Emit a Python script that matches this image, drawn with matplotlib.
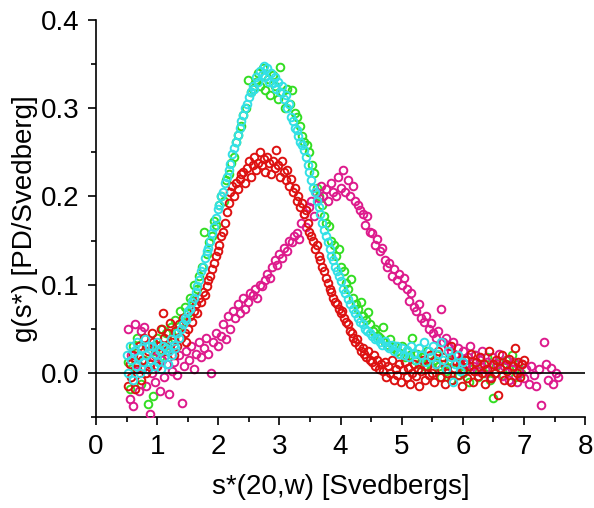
import matplotlib
matplotlib.use("Agg")
import matplotlib.pyplot as plt
from matplotlib.ticker import MultipleLocator

plt.rcParams['font.family'] = ['Liberation Sans', 'DejaVu Sans']

green_x = [0.52,0.56,0.60,0.63,0.67,0.70,0.74,0.78,0.81,0.85,0.89,0.93,0.96,1.00,1.04,1.08,1.11,1.15,1.19,1.23,
           1.27,1.30,1.34,1.38,1.42,1.46,1.50,1.54,1.57,1.61,1.65,1.69,1.73,1.77,1.81,1.85,1.89,1.93,1.97,2.01,
           2.05,2.09,2.13,2.17,2.21,2.25,2.29,2.33,2.37,2.41,2.45,2.49,2.53,2.57,2.61,2.65,2.69,2.73,2.77,2.81,
           2.85,2.89,2.93,2.97,3.01,3.05,3.09,3.13,3.17,3.21,3.25,3.29,3.33,3.37,3.41,3.45,3.49,3.53,3.57,3.61,
           3.65,3.69,3.73,3.77,3.81,3.85,3.89,3.93,3.97,4.01,4.05,4.09,4.13,4.17,4.21,4.25,4.29,4.33,4.37,4.41,
           4.45,4.49,4.53,4.57,4.61,4.65,4.69,4.73,4.77,4.81,4.85,4.89,4.93,4.97,5.01,5.05,5.09,5.13,5.17,5.21,
           5.25,5.29,5.33,5.37,5.41,5.45,5.49,5.53,5.57,5.61,5.65,5.69,5.73,5.77,5.81,5.85,5.89,5.93,5.97,6.01,
           6.05,6.10,6.15,6.20,6.25,6.30,6.35,6.40,6.45,6.50,6.55,6.60,6.65,6.70,6.75,6.80,6.85,6.90,6.95]
green_y = [0.012,-0.018,0.030,0.005,0.040,0.020,-0.012,0.015,0.030,-0.035,0.010,-0.026,0.025,0.040,0.018,0.050,0.030,0.045,0.028,0.052,
           0.040,0.060,0.048,0.070,0.058,0.075,0.068,0.085,0.082,0.100,0.095,0.110,0.120,0.160,0.135,0.148,0.155,0.172,0.168,0.190,
           0.200,0.195,0.218,0.225,0.238,0.245,0.262,0.270,0.280,0.292,0.300,0.332,0.318,0.322,0.330,0.340,0.325,0.345,0.320,0.333,
           0.315,0.338,0.325,0.310,0.347,0.318,0.300,0.322,0.305,0.320,0.295,0.290,0.280,0.268,0.262,0.258,0.250,0.235,0.227,0.210,
           0.200,0.190,0.178,0.170,0.166,0.150,0.145,0.132,0.140,0.120,0.115,0.102,0.095,0.106,0.085,0.078,0.072,0.080,0.065,0.060,
           0.069,0.055,0.048,0.050,0.042,0.040,0.052,0.035,0.032,0.038,0.028,0.030,0.025,0.022,0.030,0.018,0.025,0.020,0.039,0.015,
           0.022,0.010,0.018,0.008,0.025,0.012,0.005,0.015,0.020,0.008,-0.005,0.010,0.002,0.015,-0.008,0.005,0.012,-0.002,0.008,0.000,
           0.015,-0.010,0.005,0.020,-0.005,0.010,0.000,0.018,-0.008,-0.028,0.008,0.012,-0.002,0.015,0.005,0.020,-0.005,0.010,0.000]

cyan_x = [0.50,0.53,0.55,0.58,0.60,0.62,0.65,0.67,0.70,0.72,0.75,0.77,0.80,0.82,0.85,0.87,0.90,0.92,0.95,0.97,
          1.00,1.02,1.05,1.07,1.10,1.12,1.15,1.17,1.20,1.22,1.25,1.27,1.30,1.33,1.36,1.39,1.42,1.45,1.48,1.51,
          1.54,1.57,1.60,1.63,1.66,1.69,1.72,1.75,1.78,1.81,1.84,1.87,1.90,1.93,1.96,1.99,2.02,2.05,2.08,2.11,
          2.14,2.17,2.20,2.23,2.26,2.29,2.32,2.35,2.38,2.41,2.44,2.47,2.50,2.53,2.56,2.59,2.62,2.65,2.68,2.71,
          2.74,2.77,2.80,2.83,2.86,2.89,2.92,2.95,2.98,3.01,3.04,3.07,3.10,3.13,3.16,3.19,3.22,3.25,3.28,3.31,
          3.34,3.37,3.40,3.43,3.46,3.49,3.52,3.55,3.58,3.61,3.64,3.67,3.70,3.73,3.76,3.79,3.82,3.85,3.88,3.91,
          3.94,3.97,4.00,4.04,4.08,4.12,4.16,4.20,4.24,4.28,4.32,4.36,4.40,4.44,4.48,4.52,4.56,4.60,4.64,4.68,
          4.72,4.76,4.80,4.84,4.88,4.92,4.96,5.00,5.04,5.08,5.12,5.16,5.20,5.24,5.28,5.32,5.36,5.40,5.44,5.48,
          5.52,5.56,5.60,5.64,5.68,5.72,5.76,5.80,5.84,5.88,5.92,5.96,6.00]
cyan_y = [0.020,0.000,0.030,0.015,-0.008,0.025,0.008,0.035,0.018,0.000,0.028,0.012,0.038,0.020,0.005,0.030,0.015,0.030,0.008,0.022,
          0.035,0.012,0.025,0.005,0.030,0.018,0.028,0.010,0.025,0.038,0.020,0.032,0.028,0.045,0.040,0.050,0.055,0.062,0.060,0.070,
          0.072,0.080,0.085,0.092,0.098,0.105,0.115,0.120,0.130,0.138,0.142,0.150,0.158,0.165,0.175,0.186,0.190,0.200,0.205,0.215,
          0.222,0.230,0.237,0.248,0.255,0.262,0.270,0.278,0.285,0.292,0.300,0.305,0.312,0.318,0.325,0.322,0.335,0.330,0.342,0.338,
          0.348,0.335,0.345,0.330,0.340,0.328,0.335,0.322,0.330,0.318,0.325,0.310,0.315,0.300,0.305,0.290,0.285,0.278,0.275,0.268,
          0.262,0.258,0.252,0.245,0.235,0.228,0.218,0.210,0.205,0.195,0.188,0.180,0.170,0.162,0.155,0.148,0.140,0.133,0.128,0.120,
          0.115,0.110,0.104,0.095,0.090,0.084,0.078,0.072,0.068,0.062,0.058,0.055,0.050,0.048,0.045,0.042,0.038,0.040,0.035,0.032,
          0.036,0.030,0.028,0.032,0.025,0.030,0.022,0.028,0.020,0.026,0.018,0.030,0.022,0.015,0.028,0.020,0.035,0.012,0.025,0.018,
          0.030,0.010,0.022,0.035,0.015,0.005,0.025,0.018,-0.010,0.010,0.020,0.002,0.012]

red_x = [0.52,0.55,0.58,0.61,0.64,0.67,0.70,0.73,0.76,0.79,0.82,0.85,0.88,0.91,0.94,0.97,1.00,1.03,1.06,1.09,
         1.12,1.15,1.18,1.21,1.24,1.27,1.30,1.33,1.36,1.39,1.42,1.45,1.48,1.51,1.54,1.57,1.60,1.63,1.66,1.69,
         1.72,1.75,1.78,1.81,1.84,1.87,1.90,1.93,1.96,1.99,2.02,2.05,2.08,2.11,2.14,2.17,2.20,2.23,2.26,2.29,
         2.32,2.35,2.38,2.41,2.44,2.47,2.50,2.53,2.56,2.59,2.62,2.65,2.68,2.71,2.74,2.77,2.80,2.83,2.86,2.89,
         2.92,2.95,2.98,3.01,3.04,3.07,3.10,3.13,3.16,3.19,3.22,3.25,3.28,3.31,3.34,3.37,3.40,3.43,3.46,3.49,
         3.52,3.55,3.58,3.61,3.64,3.67,3.70,3.73,3.76,3.79,3.82,3.85,3.88,3.91,3.94,3.97,4.00,4.03,4.06,4.09,
         4.12,4.15,4.18,4.21,4.24,4.27,4.30,4.33,4.36,4.39,4.42,4.45,4.48,4.51,4.54,4.57,4.60,4.63,4.66,4.69,
         4.72,4.75,4.78,4.81,4.84,4.87,4.90,4.93,4.96,4.99,5.02,5.05,5.08,5.11,5.14,5.17,5.20,5.23,5.26,5.29,
         5.32,5.35,5.38,5.41,5.44,5.47,5.50,5.53,5.56,5.59,5.62,5.65,5.68,5.71,5.74,5.77,5.80,5.83,5.86,5.89,
         5.92,5.95,5.98,6.01,6.04,6.07,6.10,6.13,6.16,6.19,6.22,6.25,6.28,6.31,6.34,6.37,6.40,6.43,6.46,6.49,
         6.52,6.55,6.58,6.61,6.64,6.67,6.70,6.73,6.76,6.79,6.82,6.85,6.88,6.91,6.94,6.97,7.00]
red_y = [-0.015,0.010,-0.005,0.020,-0.018,0.005,0.030,-0.008,0.015,0.040,0.000,0.025,0.010,0.045,0.035,0.020,0.008,0.030,0.050,0.068,
         0.040,0.025,0.045,0.057,0.035,0.020,0.048,0.030,0.055,0.040,0.062,0.045,0.035,0.050,0.065,0.058,0.070,0.078,0.068,0.085,
         0.080,0.092,0.088,0.098,0.105,0.110,0.118,0.125,0.132,0.138,0.145,0.155,0.160,0.170,0.182,0.192,0.205,0.212,0.200,0.215,
         0.208,0.220,0.225,0.228,0.215,0.232,0.240,0.222,0.235,0.245,0.230,0.238,0.250,0.235,0.242,0.228,0.245,0.238,0.225,0.240,
         0.232,0.252,0.235,0.222,0.240,0.228,0.218,0.230,0.212,0.220,0.205,0.210,0.195,0.200,0.188,0.192,0.180,0.185,0.170,0.160,
         0.155,0.150,0.140,0.145,0.132,0.128,0.120,0.115,0.108,0.102,0.095,0.092,0.085,0.080,0.078,0.072,0.068,0.070,0.062,0.058,
         0.055,0.048,0.045,0.040,0.035,0.038,0.030,0.025,0.028,0.022,0.018,0.025,0.015,0.012,0.020,0.008,0.015,0.005,0.010,0.002,
         0.012,-0.005,0.008,0.000,0.015,-0.008,0.005,-0.002,0.010,-0.010,0.003,0.012,-0.005,0.006,-0.012,0.000,0.010,-0.004,0.005,-0.015,
         0.002,0.015,-0.008,0.008,-0.002,0.020,0.000,-0.010,0.010,0.025,-0.005,0.005,0.018,-0.012,0.000,0.012,0.030,-0.008,0.006,0.020,
         -0.002,0.010,-0.015,0.004,0.015,-0.006,0.008,0.022,-0.010,0.002,0.012,-0.004,0.018,0.000,0.010,-0.012,0.005,0.025,-0.006,0.010,
         0.000,0.015,-0.025,0.006,0.020,-0.008,0.010,0.002,0.016,-0.010,0.008,0.028,0.000,0.012,-0.005,0.010,0.015]

magenta_x = [0.52,0.55,0.58,0.61,0.64,0.67,0.70,0.73,0.76,0.79,0.82,0.85,0.88,0.91,0.94,0.97,1.00,1.04,1.08,1.12,
             1.16,1.20,1.24,1.28,1.32,1.36,1.40,1.44,1.48,1.52,1.56,1.60,1.64,1.68,1.72,1.76,1.80,1.84,1.88,1.92,
             1.96,2.00,2.04,2.08,2.12,2.16,2.20,2.24,2.28,2.32,2.36,2.40,2.44,2.48,2.52,2.56,2.60,2.64,2.68,2.72,
             2.76,2.80,2.84,2.88,2.92,2.96,3.00,3.04,3.08,3.12,3.16,3.20,3.24,3.28,3.32,3.36,3.40,3.44,3.48,3.52,
             3.56,3.60,3.64,3.68,3.72,3.76,3.80,3.84,3.88,3.92,3.96,4.00,4.04,4.08,4.12,4.16,4.20,4.24,4.28,4.32,
             4.36,4.40,4.44,4.48,4.52,4.56,4.60,4.64,4.68,4.72,4.76,4.80,4.84,4.88,4.92,4.96,5.00,5.04,5.08,5.12,
             5.16,5.20,5.24,5.28,5.32,5.36,5.40,5.44,5.48,5.52,5.56,5.60,5.64,5.68,5.72,5.76,5.80,5.84,5.88,5.92,
             5.96,6.00,6.04,6.08,6.12,6.16,6.20,6.24,6.28,6.32,6.36,6.40,6.44,6.48,6.52,6.56,6.60,6.64,6.68,6.72,
             6.76,6.80,6.84,6.88,6.92,6.96,7.00,7.04,7.08,7.12,7.16,7.20,7.24,7.28,7.32,7.36,7.40,7.44,7.48,7.52,7.55]
magenta_y = [0.050,-0.030,0.020,-0.038,0.055,0.010,-0.020,0.048,0.005,0.052,-0.015,0.030,-0.046,0.000,0.018,-0.010,0.008,-0.020,0.015,-0.005,
             0.010,-0.024,0.002,0.012,-0.002,0.020,-0.034,0.008,0.025,0.015,0.030,0.005,0.022,0.035,0.018,0.028,0.040,0.022,0.000,0.035,
             0.045,0.030,0.042,0.055,0.038,0.064,0.050,0.070,0.062,0.078,0.068,0.085,0.072,0.080,0.090,0.088,0.095,0.085,0.100,0.098,
             0.105,0.112,0.108,0.120,0.128,0.122,0.135,0.130,0.142,0.138,0.150,0.148,0.155,0.158,0.152,0.170,0.180,0.165,0.188,0.195,
             0.178,0.205,0.198,0.212,0.200,0.208,0.195,0.215,0.205,0.200,0.222,0.210,0.230,0.205,0.218,0.200,0.212,0.195,0.190,0.185,
             0.180,0.168,0.178,0.160,0.158,0.145,0.152,0.138,0.142,0.128,0.120,0.125,0.110,0.118,0.105,0.112,0.100,0.108,0.095,0.082,
             0.090,0.075,0.070,0.078,0.062,0.058,0.065,0.050,0.056,0.045,0.040,0.048,0.072,0.035,0.040,0.030,0.025,0.035,0.020,0.028,
             0.015,0.025,0.010,0.018,0.030,0.008,0.020,0.002,0.015,0.025,0.005,0.012,-0.005,0.018,0.000,0.010,0.022,-0.004,0.008,0.015,
             -0.008,0.005,0.012,-0.010,0.002,0.010,-0.006,0.004,-0.012,0.008,-0.002,-0.015,0.005,-0.036,0.035,0.010,-0.008,0.006,-0.012,0.000,-0.005]

fig = plt.figure(figsize=(5.94, 5.08), dpi=100)
ax = fig.add_axes([0.1616, 0.179, 0.8234, 0.782])

mk = dict(linestyle='none', marker='o', markerfacecolor='none', markersize=5.5, markeredgewidth=1.4)
ax.plot(green_x, green_y, markeredgecolor='#33dd22', zorder=2, **mk)
ax.plot(magenta_x, magenta_y, markeredgecolor='#dd1a8c', zorder=3, **mk)
ax.plot(red_x, red_y, markeredgecolor='#dd1111', zorder=4, **mk)
ax.plot(cyan_x, cyan_y, markeredgecolor='#33e0e6', zorder=5, **mk)

ax.axhline(0, color='black', linewidth=1.2, zorder=6)

ax.set_xlim(0, 8)
ax.set_ylim(-0.05, 0.4)
ax.xaxis.set_major_locator(MultipleLocator(1))
ax.xaxis.set_minor_locator(MultipleLocator(0.5))
ax.yaxis.set_major_locator(MultipleLocator(0.1))
ax.yaxis.set_minor_locator(MultipleLocator(0.05))
ax.yaxis.set_major_formatter(matplotlib.ticker.FormatStrFormatter('%.1f'))

for s in ['top', 'right']:
    ax.spines[s].set_visible(False)
for s in ['left', 'bottom']:
    ax.spines[s].set_linewidth(1.2)

ax.tick_params(which='major', direction='out', length=6, width=1.2, labelsize=20, pad=6)
ax.tick_params(which='minor', direction='out', length=3.5, width=1.2)

ax.set_xlabel('s*(20,w) [Svedbergs]', fontsize=20, labelpad=10)
ax.set_ylabel('g(s*) [PD/Svedberg]', fontsize=20, labelpad=2)

fig.savefig('out.png', dpi=100)
